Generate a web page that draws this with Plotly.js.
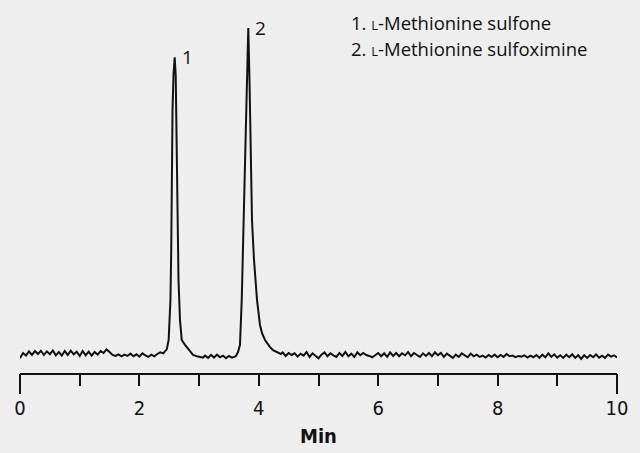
<!DOCTYPE html>
<html>
<head>
<meta charset="utf-8">
<script src="https://cdn.plot.ly/plotly-3.0.1.min.js"></script>
<style>html,body{margin:0;padding:0;background:#eeeeee;}#chart{width:640px;height:453px;}</style>
</head>
<body>
<div id="chart"></div>
<script>
// Retention time (min)
const time = [
  0.00,0.05,0.10,0.15,0.20,0.25,0.30,0.35,0.40,0.45,0.50,0.55,0.60,0.65,0.70,0.75,0.80,0.85,0.90,0.95,
  1.00,1.05,1.10,1.15,1.20,1.25,1.30,1.35,1.40,1.45,1.50,1.55,1.60,1.65,1.70,1.75,1.80,1.85,1.90,1.95,
  2.00,2.05,2.10,2.15,2.20,2.25,2.30,2.35,2.40,
  2.43,2.46,2.49,2.52,2.533,2.541,2.555,2.571,2.591,2.608,2.625,2.638,2.655,2.68,2.709,2.764,2.814,2.898,2.98,3.065,
  3.10,3.15,3.20,3.25,3.30,3.35,3.40,3.45,3.50,3.55,3.60,
  3.618,3.652,3.685,3.714,3.735,3.769,3.794,3.824,3.844,3.864,3.886,3.92,3.97,4.02,4.054,4.104,4.154,4.188,4.238,4.305,4.37,
  4.40,4.45,4.50,4.55,4.60,4.65,4.70,4.75,4.80,4.85,4.90,4.95,
  5.00,5.05,5.10,5.15,5.20,5.25,5.30,5.35,5.40,5.45,5.50,5.55,5.60,5.65,5.70,5.75,5.80,5.85,5.90,5.95,
  6.00,6.05,6.10,6.15,6.20,6.25,6.30,6.35,6.40,6.45,6.50,6.55,6.60,6.65,6.70,6.75,6.80,6.85,6.90,6.95,
  7.00,7.05,7.10,7.15,7.20,7.25,7.30,7.35,7.40,7.45,7.50,7.55,7.60,7.65,7.70,7.75,7.80,7.85,7.90,7.95,
  8.00,8.05,8.10,8.15,8.20,8.25,8.30,8.35,8.40,8.45,8.50,8.55,8.60,8.65,8.70,8.75,8.80,8.85,8.90,8.95,
  9.00,9.05,9.10,9.15,9.20,9.25,9.30,9.35,9.40,9.45,9.50,9.55,9.60,9.65,9.70,9.75,9.80,9.85,9.90,9.95,
  10.00
];
// Detector response (relative units)
const signal = [
  -1.3,0.3,-0.5,0.8,-0.3,0.9,0.0,1.0,-0.3,0.8,-0.1,1.1,-0.4,0.6,-0.5,0.9,-0.3,1.0,-0.1,0.7,
  -0.6,0.9,-0.4,0.7,-0.5,0.6,-0.2,0.9,0.3,1.4,0.6,-0.3,-0.6,-0.1,-0.7,-0.2,-0.6,0.1,-0.7,-0.1,
  -0.8,0.2,-0.4,-0.9,-0.2,-0.7,0.0,0.5,0.2,
  0.9,1.5,4.3,16.6,31.9,59.5,74.8,85.6,91.0,85.6,59.5,41.1,22.7,10.4,4.3,2.8,1.5,-0.3,-0.8,-1.1,
  -0.5,-1.2,-0.3,-1.1,-0.2,-1.0,-0.5,-1.3,-0.6,-1.1,-0.8,
  -0.6,0.6,2.8,16.6,31.9,59.5,81.0,100.0,84.0,59.5,41.1,28.8,16.6,8.9,6.4,4.3,2.8,2.1,1.2,0.6,0.0,
  0.5,-0.6,0.3,-0.3,0.2,-0.8,0.1,-0.5,0.6,-0.9,0.2,-0.6,
  -1.3,-0.2,0.5,-0.7,0.2,-0.4,-0.9,0.3,-0.6,0.6,-0.7,0.1,-0.9,0.5,-0.4,0.3,-0.3,-0.6,-1.0,-0.4,
  0.3,-0.7,0.2,-0.9,0.5,-0.6,0.3,-0.7,0.2,-0.4,0.6,-0.7,0.3,-0.3,-0.9,0.2,-0.6,0.3,-0.7,0.5,
  -0.4,0.3,-0.9,0.1,-0.6,-1.2,-0.2,-0.9,0.2,-0.4,-1.0,0.1,-0.7,-0.2,-0.9,-0.5,-1.1,-0.3,-0.9,-0.2,
  -1.0,-0.3,-0.9,0.0,-0.7,-0.5,-1.0,-0.6,-0.8,-0.4,-1.1,-0.5,-1.0,-0.3,-1.2,-0.2,-1.0,0.2,-0.9,-0.1,
  -1.1,-0.4,-1.2,-0.2,-1.0,-0.1,-1.2,-0.4,-1.5,-0.4,-1.2,-0.3,-1.0,-0.1,-1.1,-0.5,-1.2,-0.2,-0.8,-0.4,
  -1.1
];
const peakNumbers = ['1','2'];
const peakTimes = [2.591, 3.824];
const peakHeights = [91.0, 100.0];
const compounds = ['L-Methionine sulfone', 'L-Methionine sulfoximine'];
const tickValues = [0,2,4,6,8,10];
const tickLabels = ['0','2','4','6','8','10'];
const endTicks = [0,10];

const narrow = '"DejaVu Sans Condensed", "Liberation Sans Narrow", sans-serif';
const textFont = '"Open Sans", sans-serif';
const smallCaps = s => s.replace(/^L-/, '<span style="font-size:13px">L</span>-');

const annotations = peakNumbers.map((n,i) => ({
  x: peakTimes[i], y: peakHeights[i], xref:'x', yref:'y',
  text: n, showarrow:false, xanchor:'left', yanchor:'middle',
  xshift: 5, yshift: 0,
  font:{family:textFont, size:19, color:'#111'}
}));
compounds.forEach((c,i) => annotations.push({
  x: 349, y: 22 + i*27, xref:'paper', yref:'paper',
  text: peakNumbers[i] + '. ' + smallCaps(c), showarrow:false,
  xanchor:'left', yanchor:'middle', font:{family:textFont, size:18.5, color:'#111'}
}));
// convert legend pixel positions to paper coords
annotations.forEach(a => {
  if (a.xref === 'paper') {
    a.x = (a.x - 20) / (640 - 20 - 23);
    a.y = 1 - (a.y - 10) / (453 - 10 - 80);
  }
});

const data = [{
  x: time, y: signal, type:'scatter', mode:'lines',
  line:{color:'#111111', width:2}, hoverinfo:'skip'
}, {
  x: [], y: [], xaxis:'x2', type:'scatter'
}];

const layout = {
  width:640, height:453,
  margin:{l:20, r:23, t:10, b:80},
  paper_bgcolor:'#eeeeee', plot_bgcolor:'#eeeeee',
  showlegend:false,
  xaxis:{
    range:[0,10], showgrid:false, zeroline:false,
    showline:true, linecolor:'#111', linewidth:2,
    ticks:'outside', ticklen:11, tickwidth:2, tickcolor:'#111',
    tickvals: tickValues, ticktext: tickLabels, ticklabelstandoff:5,
    minor:{dtick:1, ticks:'outside', ticklen:11, tickwidth:2, tickcolor:'#111', showgrid:false},
    tickfont:{family:narrow, size:20, color:'#111'},
    title:{text:'<b>Min</b>', font:{family:narrow, size:20, color:'#111'}, standoff:10}
  },
  xaxis2:{
    range:[0,10], overlaying:'x', anchor:'y', side:'bottom',
    showgrid:false, zeroline:false, showline:false,
    ticks:'outside', ticklen:20, tickwidth:2, tickcolor:'#111',
    tickvals: endTicks, showticklabels:false
  },
  yaxis:{range:[-5.83,105.5], visible:false, showgrid:false, zeroline:false},
  annotations: annotations
};
Plotly.newPlot('chart', data, layout, {staticPlot:true});
</script>
</body>
</html>
